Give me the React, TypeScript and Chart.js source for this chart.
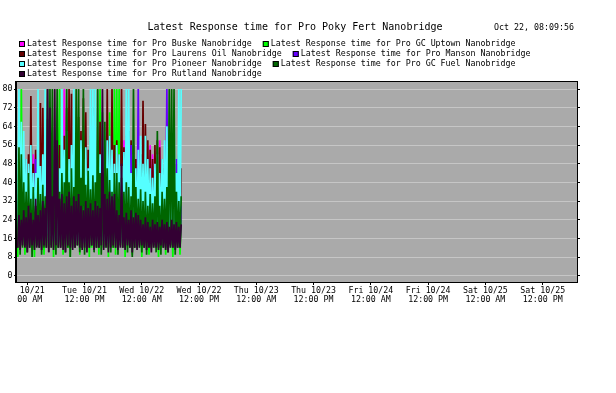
import { useEffect, useRef } from "react";
import { Chart, registerables } from "chart.js";

Chart.register(...registerables);

const TITLE = "Latest Response time for Pro Poky Fert Nanobridge";
const TIMESTAMP = "Oct 22, 08:09:56";

const SERIES_NAMES = [
  "Latest Response time for Pro Buske Nanobridge",
  "Latest Response time for Pro GC Uptown Nanobridge",
  "Latest Response time for Pro Laurens Oil Nanobridge",
  "Latest Response time for Pro Manson Nanobridge",
  "Latest Response time for Pro Pioneer Nanobridge",
  "Latest Response time for Pro GC Fuel Nanobridge",
  "Latest Response time for Pro Rutland Nanobridge",
];
const SERIES_COLORS = ["#ff00ff", "#00ff00", "#660000", "#6600ff", "#55ffff", "#006600", "#330033"];

// hours since Tue 10/21 12:00 AM
const START_HOUR = -2.0;
const STEP_HOURS = 0.5;
const X_MIN = -2.16;
const X_MAX = 115.2;
const Y_MIN = -2.7;
const Y_MAX = 83;

const X_TICK_HOURS = [0, 12, 24, 36, 48, 60, 72, 84, 96, 108];
const X_TICK_LABELS = [
  ["   10/21 ", "  00 AM "],
  ["Tue 10/21", "12:00 PM"],
  ["Wed 10/22", "12:00 AM"],
  ["Wed 10/22", "12:00 PM"],
  ["Thu 10/23", "12:00 AM"],
  ["Thu 10/23", "12:00 PM"],
  ["Fri 10/24", "12:00 AM"],
  ["Fri 10/24", "12:00 PM"],
  ["Sat 10/25", "12:00 AM"],
  ["Sat 10/25", "12:00 PM"],
];
const Y_TICKS = [0, 8, 16, 24, 32, 40, 48, 56, 64, 72, 80];

// per-interval peaks and troughs of each series
const BUSKE_HI = [28, 30, 26, 32, 28, 34, 52, 52, 30, 28, 34, 26, 30, 28, 32, 26, 30, 34, 28, 80, 30, 47, 28, 32, 26, 30, 34, 28, 32, 26, 30, 28, 34, 64, 30, 28, 32, 26, 30, 34, 28, 32, 26, 30, 58, 28, 32, 26, 30, 28, 34, 26, 32, 28, 30, 56, 52, 28, 32, 58, 26, 30, 28, 34, 26, 32, 28, 30, 26];
const UPTOWN_HI = [68, 80, 30, 26, 34, 28, 22, 40, 32, 24, 30, 26, 36, 28, 32, 40, 72, 80, 34, 28, 30, 26, 38, 30, 28, 34, 46, 30, 36, 32, 60, 28, 34, 30, 80, 70, 40, 34, 70, 36, 80, 80, 80, 58, 30, 36, 28, 34, 26, 30, 28, 24, 30, 26, 28, 24, 30, 26, 22, 28, 24, 26, 30, 60, 24, 28, 22, 26, 24];
const LAURENS_HI = [40, 44, 46, 50, 52, 77, 48, 54, 60, 74, 72, 60, 67, 50, 58, 46, 55, 56, 50, 60, 72, 80, 78, 56, 52, 68, 62, 76, 70, 54, 54, 72, 50, 58, 66, 52, 54, 80, 60, 80, 56, 58, 52, 80, 55, 60, 62, 58, 56, 50, 48, 52, 75, 65, 58, 54, 50, 56, 58, 55, 50, 46, 42, 48, 44, 40, 48, 52, 46];
const MANSON_HI = [30, 34, 28, 36, 32, 38, 30, 50, 34, 28, 36, 32, 30, 38, 34, 28, 36, 30, 34, 38, 32, 36, 30, 34, 28, 38, 32, 36, 30, 34, 38, 32, 36, 30, 36, 34, 38, 32, 36, 30, 34, 38, 32, 36, 30, 34, 36, 56, 34, 38, 80, 36, 32, 38, 30, 34, 38, 32, 36, 30, 34, 38, 80, 36, 32, 38, 50, 34, 30];
const PIONEER_HI = [80, 66, 62, 50, 48, 56, 44, 44, 80, 47, 52, 80, 50, 44, 58, 48, 52, 46, 80, 54, 62, 50, 56, 80, 52, 48, 58, 50, 55, 46, 80, 80, 80, 50, 52, 58, 62, 58, 60, 54, 48, 56, 52, 47, 53, 80, 80, 44, 52, 46, 54, 60, 48, 60, 50, 46, 42, 48, 52, 44, 50, 58, 64, 48, 54, 72, 44, 80, 80];
const FUEL_HI = [55, 52, 40, 36, 44, 33, 38, 30, 42, 35, 39, 34, 80, 80, 80, 41, 80, 36, 44, 40, 80, 40, 46, 38, 80, 80, 42, 80, 39, 45, 37, 43, 40, 80, 44, 44, 66, 46, 41, 36, 44, 44, 40, 42, 36, 40, 38, 34, 80, 38, 33, 37, 32, 36, 30, 35, 31, 34, 62, 30, 36, 33, 38, 80, 80, 80, 36, 32, 34];
const RUTLAND_HI = [26, 24, 28, 25, 30, 27, 24, 33, 26, 28, 32, 29, 80, 72, 34, 80, 58, 33, 35, 31, 34, 36, 30, 34, 32, 35, 30, 28, 32, 29, 31, 28, 32, 30, 29, 80, 35, 33, 36, 34, 35, 28, 26, 48, 25, 27, 24, 28, 25, 27, 26, 24, 22, 25, 23, 21, 24, 22, 23, 21, 24, 22, 23, 21, 24, 22, 23, 21, 22];

const MID_LO = [16, 15, 17, 14, 16, 18, 15, 16, 14, 17, 15, 16, 18, 14, 17, 15, 16, 14, 16, 17, 18, 15, 14, 16, 17, 15, 16, 18, 14, 15, 17, 16, 14, 15, 18, 16, 15, 17, 14, 16, 15, 18, 16, 14, 17, 15, 16, 14, 18, 15, 16, 17, 14, 15, 16, 18, 15, 14, 17, 16, 15, 16, 18, 14, 15, 17, 16, 15, 14];
const UPTOWN_LO = [8, 12, 13, 9, 12, 13, 12, 8, 13, 12, 12, 9, 13, 12, 12, 8, 13, 12, 13, 9, 12, 12, 8, 13, 12, 13, 9, 12, 12, 13, 8, 12, 13, 12, 9, 13, 12, 12, 8, 13, 12, 9, 12, 13, 12, 8, 12, 13, 9, 12, 13, 12, 8, 12, 13, 9, 12, 12, 13, 8, 12, 13, 9, 12, 12, 8, 13, 12, 9];
const FUEL_LO = [12, 9, 12, 13, 10, 12, 8, 12, 13, 12, 9, 12, 12, 10, 13, 12, 9, 12, 12, 13, 10, 12, 8, 12, 12, 13, 10, 12, 9, 12, 12, 13, 10, 12, 12, 9, 12, 13, 12, 10, 12, 12, 9, 13, 12, 12, 10, 12, 8, 12, 12, 13, 10, 12, 9, 12, 12, 13, 10, 12, 9, 12, 12, 10, 13, 12, 9, 12, 12];
const RUTLAND_LO = [12, 11, 13, 12, 10, 12, 13, 11, 12, 12, 11, 13, 12, 10, 12, 11, 13, 12, 12, 11, 10, 13, 12, 11, 12, 13, 12, 11, 12, 10, 12, 13, 11, 12, 12, 13, 11, 12, 10, 12, 13, 12, 11, 12, 12, 11, 13, 12, 10, 12, 11, 12, 13, 12, 11, 12, 10, 12, 12, 11, 13, 12, 11, 10, 12, 12, 11, 12, 12];

const SERIES_HI = [BUSKE_HI, UPTOWN_HI, LAURENS_HI, MANSON_HI, PIONEER_HI, FUEL_HI, RUTLAND_HI];
const SERIES_LO = [MID_LO, UPTOWN_LO, MID_LO, MID_LO, MID_LO, FUEL_LO, RUTLAND_LO];

const FONT = '"DejaVu Sans Mono", monospace';
const PLOT_BG = "#aaaaaa";
const GRID = "#c6c6c6";

const frameAndHeader = {
  id: "frameAndHeader",
  beforeDraw(chart: any) {
    const { ctx, chartArea: a } = chart;
    ctx.save();
    ctx.fillStyle = PLOT_BG;
    ctx.fillRect(a.left, a.top, a.right - a.left, a.bottom - a.top);
    ctx.restore();
  },
  afterDraw(chart: any) {
    const { ctx, chartArea: a } = chart;
    ctx.save();
    ctx.strokeStyle = "#000";
    ctx.lineWidth = 1;
    ctx.strokeRect(a.left - 0.5, a.top - 0.5, a.right - a.left + 1, a.bottom - a.top + 1);
    ctx.beginPath();
    ctx.moveTo(a.left - 1.5, a.top - 1);
    ctx.lineTo(a.left - 1.5, a.bottom + 1);
    ctx.stroke();

    ctx.fillStyle = "#000";
    ctx.textBaseline = "middle";
    ctx.textAlign = "center";
    ctx.font = `10px ${FONT}`;
    ctx.fillText(TITLE, (a.left + a.right) / 2 - 2, 27);
    ctx.font = `8.3px ${FONT}`;
    ctx.textAlign = "left";
    ctx.fillText(TIMESTAMP, 494, 28);

    let x = 19;
    let y = 44;
    chart.data.datasets.forEach((ds: any, i: number) => {
      const w = 8 + ctx.measureText(ds.label).width;
      if (i > 0 && x + w > 600) {
        x = 19;
        y += 10;
      }
      ctx.fillStyle = ds.borderColor;
      ctx.fillRect(x, y - 3, 6, 6);
      ctx.strokeStyle = "#000";
      ctx.strokeRect(x + 0.5, y - 2.5, 5, 5);
      ctx.fillStyle = "#000";
      ctx.fillText(ds.label, x + 8, y);
      x += w + 11;
    });
    ctx.restore();
  },
};

export default function App() {
  const canvasRef = useRef<HTMLCanvasElement | null>(null);

  useEffect(() => {
    const canvas = canvasRef.current;
    if (!canvas) return;
    const datasets = SERIES_NAMES.map((name, s) => {
      const hi = SERIES_HI[s];
      const lo = SERIES_LO[s];
      const data: { x: number; y: number }[] = [];
      hi.forEach((h, i) => {
        const t = START_HOUR + i * STEP_HOURS;
        data.push({ x: t, y: lo[i] });
        data.push({ x: t + STEP_HOURS / 2, y: h });
      });
      return {
        type: "line" as const,
        label: name,
        data,
        borderColor: SERIES_COLORS[s],
        backgroundColor: SERIES_COLORS[s],
        borderWidth: 1.7,
        pointRadius: 0,
        tension: 0,
        fill: false,
        borderJoinStyle: "bevel" as const,
        order: SERIES_NAMES.length - 1 - s,
        clip: 0,
      };
    });

    const setY = (axis: any) => {
      axis.ticks = Y_TICKS.map((v) => ({ value: v }));
    };

    const chart = new Chart(canvas, {
      type: "line",
      data: { datasets },
      options: {
        responsive: false,
        devicePixelRatio: 1,
        animation: false,
        events: [],
        layout: { padding: { left: 0, right: 0, top: 82, bottom: 81 } },
        plugins: {
          legend: { display: false },
          title: { display: false },
          tooltip: { enabled: false },
        },
        scales: {
          x: {
            type: "linear",
            min: X_MIN,
            max: X_MAX,
            afterBuildTicks: (axis: any) => {
              axis.ticks = X_TICK_HOURS.map((v) => ({ value: v }));
            },
            afterFit: (axis: any) => {
              axis.height = 30;
            },
            ticks: {
              autoSkip: false,
              maxRotation: 0,
              minRotation: 0,
              padding: 1,
              color: "#000",
              font: { family: FONT, size: 8.3, lineHeight: 1.1 },
              callback: (_v: any, i: number) => X_TICK_LABELS[i],
            },
            grid: { drawOnChartArea: false, drawTicks: true, tickLength: 3, tickColor: "#000", color: "#000" },
            border: { display: false },
          },
          y: {
            type: "linear",
            position: "left",
            min: Y_MIN,
            max: Y_MAX,
            afterBuildTicks: setY,
            afterFit: (axis: any) => {
              axis.width = 17;
            },
            ticks: {
              padding: 1.5,
              color: "#000",
              font: { family: FONT, size: 8.3 },
              callback: (v: any) => String(v),
            },
            grid: { color: GRID, lineWidth: 1, tickColor: "#000", tickLength: 3 },
            border: { display: false },
          },
          y2: {
            type: "linear",
            position: "right",
            min: Y_MIN,
            max: Y_MAX,
            afterBuildTicks: setY,
            afterFit: (axis: any) => {
              axis.width = 39;
            },
            ticks: { display: false },
            grid: { drawOnChartArea: false, tickColor: "#000", tickLength: 3 },
            border: { display: false },
          },
        },
      },
      plugins: [frameAndHeader],
    } as any);

    return () => chart.destroy();
  }, []);

  return (
    <div style={{ position: "fixed", left: 0, top: 0, width: 616, height: 393, background: "#fff" }}>
      <canvas ref={canvasRef} width={616} height={393} style={{ display: "block" }} />
    </div>
  );
}
